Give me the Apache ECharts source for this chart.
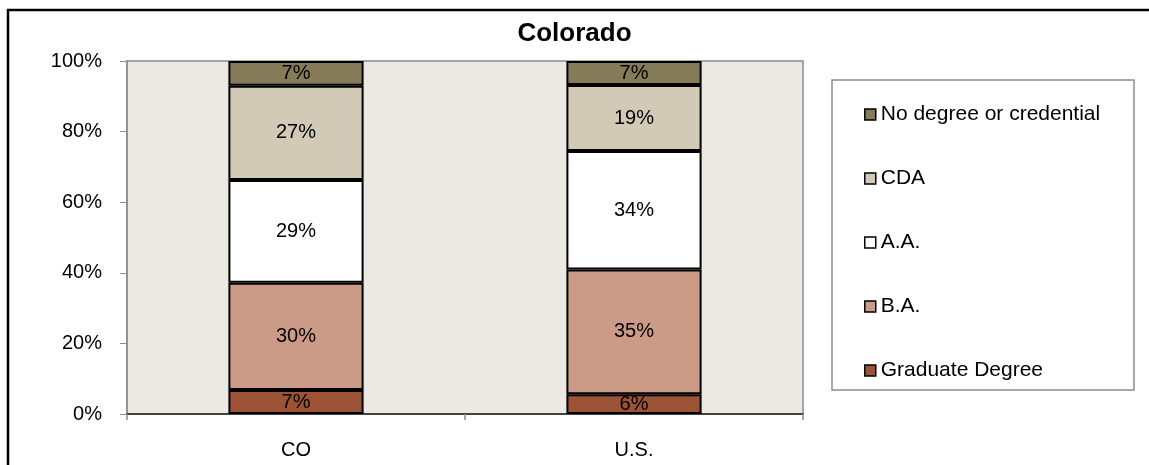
<!DOCTYPE html>
<html>
<head>
<meta charset="utf-8">
<script src="https://cdn.jsdelivr.net/npm/echarts@6/dist/echarts.min.js"></script>
<style>
html,body{margin:0;padding:0;background:#fff;}
#chart{width:1149px;height:465px;}
</style>
</head>
<body>
<div id="chart"></div>
<script>
const categories = ['CO', 'U.S.'];
const seriesNames = ['Graduate Degree', 'B.A.', 'A.A.', 'CDA', 'No degree or credential'];
const gradDegree = [6.8, 5.6];
const baDegree = [30.4, 35.3];
const aaDegree = [29.1, 33.6];
const cdaCred = [26.7, 18.7];
const noDegree = [7.0, 6.8];
const yTicks = [0, 20, 40, 60, 80, 100];

const values = [gradDegree, baDegree, aaDegree, cdaCred, noDegree];
const colors = ['#9C5336', '#CC9B87', '#FFFFFF', '#D2CAB6', '#867B58'];
const FONT = '"Liberation Sans", Arial, sans-serif';

const chart = echarts.init(document.getElementById('chart'));
const series = seriesNames.map((name, i) => ({
  name: name,
  type: 'bar',
  stack: 'total',
  barWidth: '40%',
  data: values[i],
  itemStyle: { color: colors[i], borderColor: '#000', borderWidth: 2 },
  label: {
    show: true,
    position: 'inside',
    color: '#000',
    fontFamily: FONT,
    fontSize: 20,
    formatter: p => Math.round(p.value) + '%'
  },
  emphasis: { disabled: true }
}));

chart.setOption({
  animation: false,
  backgroundColor: '#fff',
  title: {
    text: 'Colorado',
    left: 'center',
    top: 16,
    textStyle: { fontFamily: FONT, fontSize: 26, fontWeight: 'bold', color: '#000' }
  },
  grid: {
    left: 127, right: 346, top: 61, bottom: 51,
    show: true, backgroundColor: '#ECE9E3', borderColor: '#8C8C8C', borderWidth: 1.5
  },
  legend: {
    orient: 'vertical',
    left: 864, top: 104, padding: 0,
    itemWidth: 11, itemHeight: 11, itemGap: 43,
    icon: 'rect',
    data: seriesNames.slice().reverse(),
    itemStyle: { borderColor: '#000', borderWidth: 1.5 },
    textStyle: { fontFamily: FONT, fontSize: 21, color: '#000', lineHeight: 21 }
  },
  xAxis: {
    type: 'category',
    data: categories,
    axisLine: { show: true, lineStyle: { color: '#222', width: 1.5 } },
    axisTick: { show: true, length: 6, lineStyle: { color: '#8C8C8C', width: 1.5 } },
    axisLabel: { fontFamily: FONT, fontSize: 20, color: '#000', margin: 26 }
  },
  yAxis: {
    type: 'value',
    min: yTicks[0], max: yTicks[yTicks.length - 1], interval: 20,
    splitLine: { show: false },
    axisLine: { show: true, lineStyle: { color: '#8C8C8C', width: 1.5 } },
    axisTick: { show: true, length: 7, lineStyle: { color: '#8C8C8C', width: 1 } },
    axisLabel: { fontFamily: FONT, fontSize: 20, color: '#000', margin: 25, formatter: '{value}%' }
  },
  graphic: [
    { type: 'rect', shape: { x: 832, y: 80, width: 302, height: 310 },
      style: { fill: '#fff', stroke: '#8C8C8C', lineWidth: 1.5 }, z: -1 },
    { type: 'polyline', shape: { points: [[8, 470], [8, 10], [1160, 10]] },
      style: { fill: null, stroke: '#000', lineWidth: 2.5 }, z: 10 }
  ],
  series: series
});
</script>
</body>
</html>
